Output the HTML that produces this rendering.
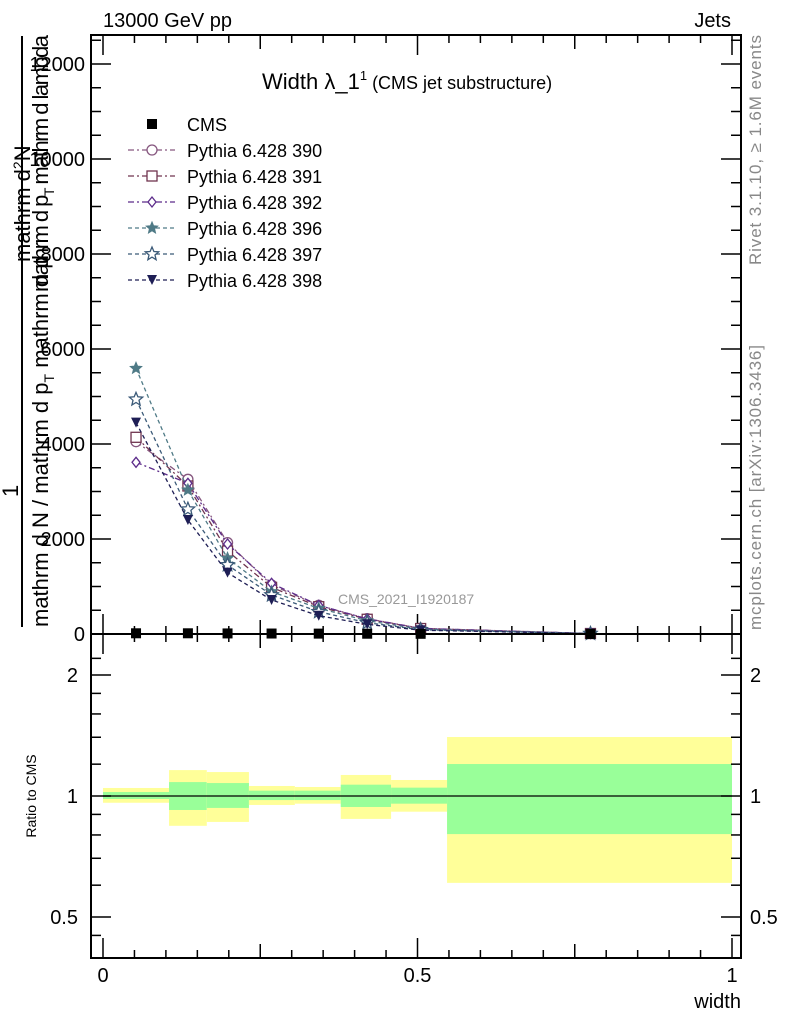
<!DOCTYPE html>
<html><head><meta charset="utf-8"><style>
body{margin:0;background:#fff}
svg text{font-family:"Liberation Sans",sans-serif}
</style></head><body>
<svg id="chart" width="786" height="1024" xmlns="http://www.w3.org/2000/svg">
<g>
<text x="103" y="27" font-size="20">13000 GeV pp</text>
<text x="731" y="27" font-size="20" text-anchor="end">Jets</text>
<text x="262" y="89" font-size="22">Width λ_1<tspan font-size="13" dy="-9">1</tspan><tspan font-size="18" dy="9"> (CMS jet substructure)</tspan></text>
</g>
<g fill="#888" font-size="17">
<text transform="translate(761,265) rotate(-90)" textLength="230">Rivet 3.1.10, ≥ 1.6M events</text>
<text transform="translate(761,630) rotate(-90)" textLength="285">mcplots.cern.ch [arXiv:1306.3436]</text>
</g>
<g font-size="22">
<text transform="translate(30,262) rotate(-90)">mathrm d<tspan font-size="14" dy="-7">2</tspan><tspan dy="7">N</tspan></text>
<text transform="translate(48,292) rotate(-90)" textLength="257">mathrm d p<tspan font-size="14" dy="6">T</tspan><tspan dy="-6"> mathrm d lambda</tspan></text>
<line x1="22" y1="36" x2="22" y2="627" stroke="#000" stroke-width="2"/>
<text transform="translate(18,497) rotate(-90)">1</text>
<text transform="translate(48,627) rotate(-90)">mathrm d N / mathrm d p<tspan font-size="14" dy="6">T</tspan><tspan dy="-6"> mathrm d p</tspan></text>
</g>
<g id="main"></g>
<g id="ratio"></g>
<text x="741" y="1008" font-size="20" text-anchor="end">width</text>
<text transform="translate(36,796) rotate(-90)" font-size="14" text-anchor="middle">Ratio to CMS</text>
<text x="338" y="604" font-size="14" fill="#999">CMS_2021_I1920187</text>
</svg>
<script>
const xCenters=[0.0525,0.135,0.198,0.268,0.343,0.42,0.505,0.775];
const binEdges=[0,0.105,0.165,0.232,0.305,0.378,0.458,0.547,1.0];
const cmsValues=[15,15,12,10,8,6,4,1];
const seriesNames=["Pythia 6.428 390","Pythia 6.428 391","Pythia 6.428 392","Pythia 6.428 396","Pythia 6.428 397","Pythia 6.428 398"];
const s390=[4049,3257,1923,1032,604,322,120,10];
const s391=[4141,3116,1747,983,575,310,115,10];
const s392=[3615,3173,1895,1067,604,318,118,10];
const s396=[5593,3032,1594,891,541,280,100,9];
const s397=[4940,2625,1453,821,469,238,90,9];
const s398=[4449,2400,1291,716,385,204,80,8];
const yTicks=[0,2000,4000,6000,8000,10000,12000];
const yTickLabels=["0","2000","4000","6000","8000","10000","12000"];
const xTicks=[0,0.5,1];
const xTickLabels=["0","0.5","1"];
const ratioTicks=[0.5,1,2];
const ratioTickLabels=["0.5","1","2"];
const yellowUp=[1.047,1.16,1.147,1.059,1.053,1.128,1.096,1.402];
const yellowDown=[0.962,0.843,0.862,0.95,0.957,0.877,0.914,0.608];
const greenUp=[1.023,1.083,1.077,1.031,1.031,1.067,1.049,1.201];
const greenDown=[0.983,0.923,0.934,0.977,0.977,0.939,0.957,0.804];

const NS="http://www.w3.org/2000/svg";
const X=v=>103+v*629;
const Y=v=>634-v*570/12000;
const R=v=>796-402*Math.log10(v);
function mk(p,tag,at){const e=document.createElementNS(NS,tag);for(const k in at)e.setAttribute(k,at[k]);p.appendChild(e);return e;}
const main=document.getElementById('main'),ratio=document.getElementById('ratio');
const L=91,Rt=741;
let f=mk(main,'rect',{x:L,y:35,width:Rt-L,height:599,fill:'none',stroke:'#000','stroke-width':2});


f=mk(ratio,'rect',{x:L,y:634,width:Rt-L,height:324,fill:'none',stroke:'#000','stroke-width':2});


for(let v=0;v<=12500;v+=500){const maj=v%2000===0;const y=Y(v);if(y<36)continue;
 let t=mk(main,'line',{x1:L,x2:L+(maj?20:10),y1:y,y2:y,stroke:'#000','stroke-width':1.5});
 
 
 t=mk(main,'line',{x1:Rt,x2:Rt-(maj?20:10),y1:y,y2:y,stroke:'#000','stroke-width':1.5});
 
 }
yTicks.forEach((v,i)=>{const t=mk(main,'text',{x:85,y:Y(v)+7,'font-size':20,'text-anchor':'end'});t.textContent=yTickLabels[i];
 
 });
for(let k=0;k<=20;k++){const v=k*0.05;const x=X(v);const maj=k%10===0;const mid=k%5===0;const len=maj?20:(mid?14:8);
 [[634,-1],[35,1],[958,-1],[634,1]].forEach(([y0,d])=>{const t=mk(main,'line',{x1:x,x2:x,y1:y0,y2:y0+d*len,stroke:'#000','stroke-width':1.5});
 
 });}
xTicks.forEach((v,i)=>{const t=mk(ratio,'text',{x:X(v),y:982,'font-size':20,'text-anchor':'middle'});t.textContent=xTickLabels[i];
 
 });
for(let i=0;i<xCenters.length;i++){
 let r=mk(ratio,'rect',{x:X(binEdges[i]),y:R(yellowUp[i]),width:X(binEdges[i+1])-X(binEdges[i]),height:R(yellowDown[i])-R(yellowUp[i]),fill:'#ffff99'});
 
 
 r=mk(ratio,'rect',{x:X(binEdges[i]),y:R(greenUp[i]),width:X(binEdges[i+1])-X(binEdges[i]),height:R(greenDown[i])-R(greenUp[i]),fill:'#99ff99'});
 
 }
let rl=mk(ratio,'line',{x1:X(0),x2:X(1),y1:R(1),y2:R(1),stroke:'#000','stroke-width':1.3});


[0.45,0.5,0.6,0.7,0.8,0.9,1,1.2,1.4,1.6,1.8,2,2.2].forEach(v=>{const y=R(v);if(y>957||y<635)return;const maj=ratioTicks.includes(v);
 [[L,1],[Rt,-1]].forEach(([x0,d])=>{const t=mk(ratio,'line',{x1:x0,x2:x0+d*(maj?20:10),y1:y,y2:y,stroke:'#000','stroke-width':1.5});
 
 });});
ratioTicks.forEach((v,i)=>{let t=mk(ratio,'text',{x:78,y:R(v)+7,'font-size':20,'text-anchor':'end'});t.textContent=ratioTickLabels[i];
 
 
 t=mk(ratio,'text',{x:750,y:R(v)+7,'font-size':20});t.textContent=ratioTickLabels[i];
 
 });
function star(cx,cy,r){let p=[];for(let k=0;k<10;k++){const a=-Math.PI/2+k*Math.PI/5;const rr=k%2?r*0.45:r;p.push((cx+rr*Math.cos(a)).toFixed(1)+','+(cy+rr*Math.sin(a)).toFixed(1));}return p.join(' ');}
function marker(g,type,cx,cy,c){let e;
 if(type==='circle')e=mk(g,'circle',{cx,cy,r:5,fill:'#fff',stroke:c,'stroke-width':1.3});
 else if(type==='square')e=mk(g,'rect',{x:cx-5,y:cy-5,width:10,height:10,fill:'#fff',stroke:c,'stroke-width':1.3});
 else if(type==='diamond')e=mk(g,'polygon',{points:`${cx},${cy-5} ${cx+4},${cy} ${cx},${cy+5} ${cx-4},${cy}`,fill:'#fff',stroke:c,'stroke-width':1.3});
 else if(type==='starf')e=mk(g,'polygon',{points:star(cx,cy,6),fill:c,stroke:c});
 else if(type==='staro')e=mk(g,'polygon',{points:star(cx,cy,7),fill:'#fff',stroke:c,'stroke-width':1.3});
 else if(type==='tri')e=mk(g,'polygon',{points:`${cx-5},${cy-5} ${cx+5},${cy-5} ${cx},${cy+5}`,fill:c});
 else e=mk(g,'rect',{x:cx-5,y:cy-5,width:10,height:10,fill:c});
 return e;}
const seriesData=[s390,s391,s392,s396,s397,s398];
const colors=['#86577f','#70344f','#5c2b8a','#4f7a86','#3b5a78','#1e1e55'];
const markers=['circle','square','diamond','starf','staro','tri'];
const dashes=['6,3,2,3','6,3,2,3','6,3,2,3','4,3','4,3','4,3'];
seriesData.forEach((d,s)=>{const g=mk(main,'g',{});
 
 
 const pl=mk(g,'polyline',{points:d.map((v,i)=>X(xCenters[i])+','+Y(v)).join(' '),fill:'none',stroke:colors[s],'stroke-width':1.3,'stroke-dasharray':dashes[s]});
 
 
 d.forEach((v,i)=>{const m=marker(g,markers[s],X(xCenters[i]),Y(v),colors[s]);
 
 });
 const ly=156+s*26;
 const ll=mk(g,'line',{x1:128,x2:175,y1:ly-6,y2:ly-6,stroke:colors[s],'stroke-width':1.3,'stroke-dasharray':dashes[s]});
 
 
 const lm=marker(g,markers[s],152,ly-6,colors[s]);
 
 
 const lt=mk(g,'text',{x:187,y:ly+1,'font-size':18});lt.textContent=seriesNames[s];
 
 });
const cg=mk(main,'g',{});


cmsValues.forEach((v,i)=>{const m=marker(cg,'fill',X(xCenters[i]),Y(v),'#000');
 
 });
const cm=marker(cg,'fill',152,124,'#000');


const ct=mk(cg,'text',{x:187,y:131,'font-size':18});ct.textContent='CMS';


</script>
</body></html>
